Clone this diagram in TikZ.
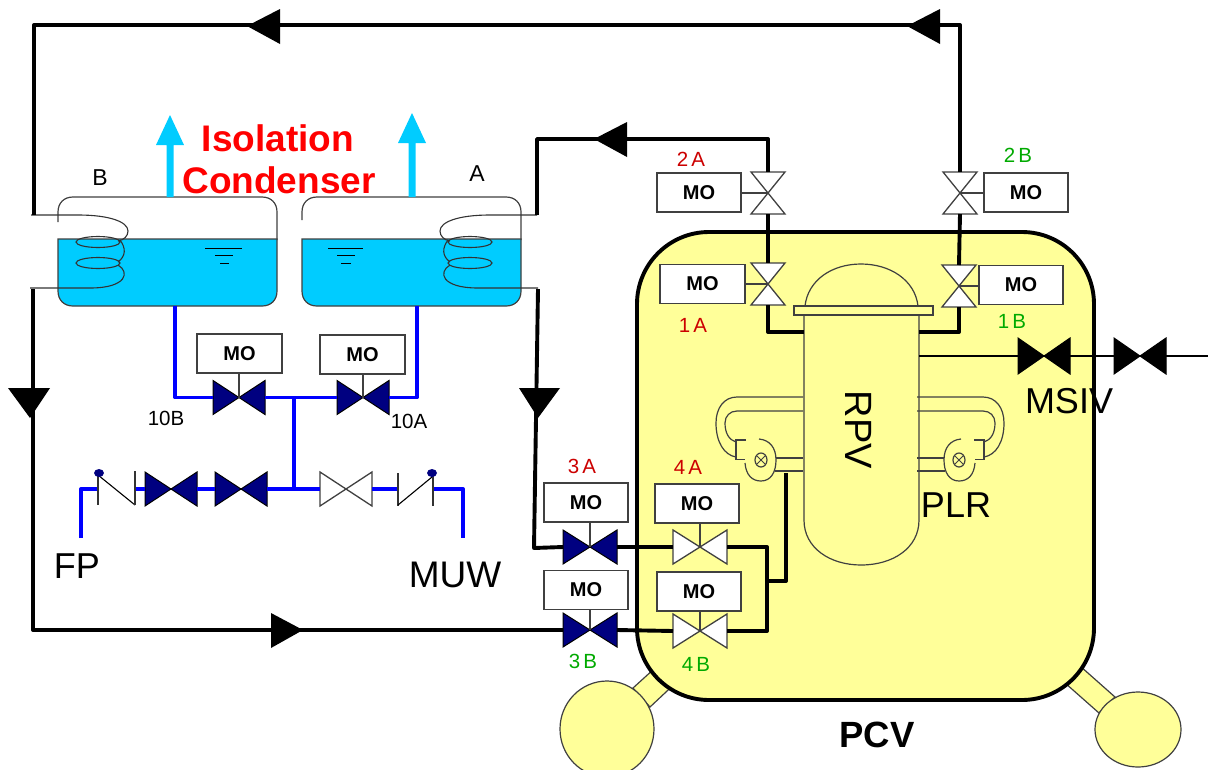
\documentclass[tikz,border=0pt]{standalone}
\usepackage{fontspec}
\usetikzlibrary{calc,shapes.geometric}
\setmainfont{Liberation Sans}
\newfontfamily\spaced[LetterSpace=16]{Liberation Sans}
\definecolor{pcvy}{HTML}{FFFF99}
\definecolor{water}{HTML}{00CCFF}
\definecolor{navyv}{HTML}{000080}
\definecolor{pipeblue}{HTML}{0000FF}
\definecolor{lab}{HTML}{CC0000}
\definecolor{labg}{HTML}{00AA00}
\definecolor{thin}{HTML}{404040}
\tikzset{
  x=1pt,y=-1pt,
  blackpipe/.style={draw=black,line width=3.9pt,line join=round},
  bluepipe/.style={draw=pipeblue,line width=3.9pt,line join=round},
  thinline/.style={draw=thin,line width=1.2pt},
  coilline/.style={draw=black!80,line width=1.1pt},
  navyvalve/.style={draw=black,fill=navyv,line width=1pt},
  whitevalve/.style={draw=thin,fill=white,line width=1.3pt},
  blackvalve/.style={draw=black,fill=black,line width=1pt},
  mobox/.style={draw=thin,fill=white,line width=1.2pt,minimum width=84pt,minimum height=39pt,inner sep=0pt,font=\fontsize{20}{22}\selectfont\bfseries},
  tag/.style={inner sep=0pt,font=\spaced\fontsize{20.5}{22}\selectfont},
  biglabel/.style={inner sep=0pt,font=\fontsize{36}{40}\selectfont},
  title/.style={inner sep=0pt,text=red,font=\fontsize{37}{40}\selectfont\bfseries},
  flowhead/.style={fill=black,draw=none},
}
% horizontal-flow valve: name, x, y, half width, half height, style
\newcommand{\hvalve}[6]{%
  \coordinate (#1) at (#2,#3);
  \coordinate (#1l) at ($(#1)+(-#4,0)$);
  \coordinate (#1r) at ($(#1)+(#4,0)$);
  \path[#6] ($(#1)+(-#4,-#5)$) -- ($(#1)+(#4,#5)$) -- ($(#1)+(#4,-#5)$) -- ($(#1)+(-#4,#5)$) -- cycle;}
% vertical-flow valve
\newcommand{\vvalve}[6]{%
  \coordinate (#1) at (#2,#3);
  \coordinate (#1t) at ($(#1)+(0,-#5)$);
  \coordinate (#1b) at ($(#1)+(0,#5)$);
  \path[#6] ($(#1)+(-#4,-#5)$) -- ($(#1)+(#4,-#5)$) -- ($(#1)+(-#4,#5)$) -- ($(#1)+(#4,#5)$) -- cycle;}
\newcommand{\coilB}{%
  \draw[coilline] (31,215) -- (78,215) .. controls (110,215) and (128,222) .. (128,231) .. controls (128,236) and (124,240) .. (118,241);
  \draw[coilline] (98,242) ellipse [x radius=22, y radius=5.5];
  \draw[coilline] (120,240) .. controls (126,248) and (126,256) .. (118,262);
  \draw[coilline] (98,263) ellipse [x radius=22, y radius=5.5];
  \draw[coilline] (118,265) .. controls (130,272) and (127,288) .. (90,288) -- (30,288);
}
\newcommand{\pumpL}{%
  \draw[thinline] (803,397) -- (737,397) .. controls (724,397) and (716,408) .. (716,423) .. controls (716,442) and (724,455) .. (736,457);
  \draw[thinline] (803,411) -- (737,411) .. controls (730,411) and (725,416) .. (725,423) .. controls (725,433) and (729,440) .. (736,442);
  \draw[thinline] (746,440) -- (736,440) -- (736,459.5) -- (745,459.5);
  \draw[thinline] (745,463) .. controls (746,475) and (752,481) .. (761,481) .. controls (771,481) and (776,472) .. (776,460) .. controls (776,448) and (770,440) .. (759,439);
  \draw[thinline] (761,460) ellipse [x radius=6, y radius=7];
  \draw[thinline,line width=.8pt] (757,456) -- (765,464) (765,456) -- (757,464);
  \draw[thinline] (776,458) -- (803,458) (775,471) -- (803,471);
}
\begin{document}
\begin{tikzpicture}
\clip (0,0) rectangle (1208,769);
\useasboundingbox (0,0) rectangle (1208,769);
\fill[white] (0,0) rectangle (1208,769);

% suppression chamber necks and tori
\filldraw[fill=pcvy,thinline] (666,658) -- (682,677) -- (650,707) -- (633,688) -- cycle;
\filldraw[fill=pcvy,thinline] (1071,658) -- (1056,675) -- (1099,713) -- (1115,697) -- cycle;
\node[draw=thin,fill=pcvy,line width=1.2pt,ellipse,minimum width=94pt,minimum height=96pt,inner sep=0pt] (torusL) at (607,729) {};
\node[draw=thin,fill=pcvy,line width=1.2pt,ellipse,minimum width=86pt,minimum height=75pt,inner sep=0pt] (torusR) at (1138,729.5) {};

% PCV
\filldraw[fill=pcvy,draw=black,line width=3.9pt,rounded corners=72pt] (637,232) rectangle (1094,700);

% RPV
\filldraw[fill=pcvy,thinline] (805,306) .. controls (808,280) and (832,264) .. (861,264) .. controls (890,264) and (915,280) .. (918,306) -- cycle;
\filldraw[fill=pcvy,thinline] (804,315) -- (804,520) .. controls (804,548) and (830,565) .. (861,565) .. controls (893,565) and (919,548) .. (919,520) -- (919,315) -- cycle;
\filldraw[fill=pcvy,thinline] (794,306) rectangle (933,315);
\node[inner sep=0pt,rotate=-90,font=\fontsize{38}{40}\selectfont] (rpv) at (859,430) {RPV};

% recirculation loops
\pumpL
\begin{scope}[xshift=1720pt,xscale=-1]\pumpL\end{scope}

% tanks
\draw[thinline] (58,222) -- (58,212) .. controls (58,203) and (64,197) .. (73,197) -- (262,197) .. controls (271,197) and (277,203) .. (277,212) -- (277,240);
\draw[thinline] (302,220) -- (302,212) .. controls (302,203) and (308,197) .. (317,197) -- (506,197) .. controls (515,197) and (521,203) .. (521,212) -- (521,240);
\filldraw[fill=water,thinline] (58,239) -- (277,239) -- (277,291) .. controls (277,300) and (271,306) .. (262,306) -- (73,306) .. controls (64,306) and (58,300) .. (58,291) -- cycle;
\filldraw[fill=water,thinline] (302,239) -- (521,239) -- (521,291) .. controls (521,300) and (515,306) .. (506,306) -- (317,306) .. controls (308,306) and (302,300) .. (302,291) -- cycle;
\draw[black,line width=1pt] (205,248) -- (242,248) (215,255) -- (233,255) (220,263) -- (229,263);
\draw[black,line width=1pt] (328,248) -- (363,248) (337,255) -- (355,255) (341,263) -- (351,263);
\coilB
\begin{scope}[xshift=568pt,xscale=-1]\coilB\end{scope}
\coordinate (coilBin) at (34,215);
\coordinate (coilBout) at (33,289);
\coordinate (coilAin) at (537,215);
\coordinate (coilAout) at (538,289);

% vent arrows
\fill[water] (166.5,197) -- (166.5,145) -- (156,145) -- (170,115) -- (184,145) -- (173.5,145) -- (173.5,197) -- cycle;
\fill[water] (408.5,197) -- (408.5,143) -- (398,143) -- (412,113) -- (426,143) -- (415.5,143) -- (415.5,197) -- cycle;

% black-side valves
\vvalve{vTwoA}{768}{193}{17}{21}{whitevalve}
\vvalve{vTwoB}{960}{193}{17}{21}{whitevalve}
\vvalve{vOneA}{768}{284}{17}{21}{whitevalve}
\vvalve{vOneB}{959}{286}{17}{21}{whitevalve}
\hvalve{vThreeA}{590}{547}{27}{17}{navyvalve}
\hvalve{vThreeB}{590}{630}{27}{17}{navyvalve}
\hvalve{vFourA}{700}{547}{27}{17}{whitevalve}
\hvalve{vFourB}{700}{631}{27}{17}{whitevalve}
\hvalve{vMsivA}{1044}{356}{26}{18}{blackvalve}
\hvalve{vMsivB}{1140}{356}{26}{18}{blackvalve}

% black pipes
\draw[blackpipe] (coilBin) -- (34,25) -- (960,25) -- (vTwoBt);
\draw[blackpipe] (coilAin) -- (537,139) -- (768,139) -- (vTwoAt);
\draw[blackpipe] (vTwoAb) -- (vOneAt);
\draw[blackpipe] (vTwoBb) -- (vOneBt);
\draw[blackpipe] (vOneAb) -- (768,332) -- (804,332);
\draw[blackpipe] (vOneBb) -- (959,332) -- (919,332);
\draw[blackpipe] (coilBout) -- (33,630) -- (vThreeBl);
\draw[blackpipe] (coilAout) -- (534,548) -- (vThreeAl);
\draw[blackpipe] (vThreeAr) -- (vFourAl);
\draw[blackpipe] (vThreeBr) -- (vFourBl);
\draw[blackpipe] (vFourAr) -- (767,547) -- (767,631) -- (vFourBr);
\draw[blackpipe] (767,581) -- (786,581) -- (786,473);
\draw[draw=black,line width=2.6pt] (919,356) -- (vMsivAl);
\draw[draw=black,line width=2.6pt] (vMsivAr) -- (vMsivBl);
\coordinate (steamend) at (1208,356);
\draw[draw=black,line width=2.6pt] (vMsivBr) -- (steamend);

% flow arrowheads
\fill[flowhead] (247,26) -- (280,9) -- (280,44) -- cycle;
\fill[flowhead] (907,26) -- (940,9) -- (940,44) -- cycle;
\fill[flowhead] (594,139) -- (627,122) -- (627,157) -- cycle;
\fill[flowhead] (8,388) -- (50,388) -- (30,418) -- cycle;
\fill[flowhead] (519,388) -- (560,388) -- (538,418) -- cycle;
\fill[flowhead] (303,630) -- (271,613) -- (271,648) -- cycle;

% blue pipes and valves
\hvalve{vTenB}{239}{397.5}{26}{17}{navyvalve}
\hvalve{vTenA}{363}{397.5}{26}{17}{navyvalve}
\hvalve{vFpA}{171}{489}{26}{17}{navyvalve}
\hvalve{vFpB}{241}{489}{26}{17}{navyvalve}
\hvalve{vMuw}{346}{489}{26}{17}{whitevalve}
\coordinate (chkFpL) at (98,489);
\coordinate (chkFpR) at (135,489);
\coordinate (chkMuL) at (398,489);
\coordinate (chkMuR) at (433,489);
\coordinate (fpEnd) at (81,538);
\coordinate (muwEnd) at (463,538);
\coordinate (teeTop) at (294,397.5);
\coordinate (teeBot) at (294,489);
\draw[bluepipe] (175,306) -- (175,397.5) -- (vTenBl);
\draw[bluepipe] (vTenBr) -- (vTenAl);
\draw[bluepipe] (vTenAr) -- (417,397.5) -- (417,306);
\draw[bluepipe] (teeTop) -- (teeBot);
\draw[bluepipe] (fpEnd) -- (81,489) -- (chkFpL);
\draw[bluepipe] (chkFpR) -- (vFpAl);
\draw[bluepipe] (vFpAr) -- (vFpBl);
\draw[bluepipe] (vFpBr) -- (vMuwl);
\draw[bluepipe] (vMuwr) -- (chkMuL);
\draw[bluepipe] (chkMuR) -- (463,489) -- (muwEnd);
% check valves
\draw[black!80,line width=1.1pt] (98,473) -- (98,505);
\draw[thin,line width=1.1pt] (98,475) -- (135,505);
\draw[black!80,line width=1.1pt] (135,471) -- (135,505);
\fill[navyv] (99,473) ellipse [x radius=5, y radius=4];
\draw[black!80,line width=1.1pt] (398,473) -- (398,506);
\draw[thin,line width=1.1pt] (398,505) -- (432,477);
\draw[black!80,line width=1.1pt] (433,475) -- (433,506);
\fill[navyv] (432,473) ellipse [x radius=5, y radius=4];

% motor operators
\node[mobox] (moTwoA) at (699,192.5) {MO};
\node[mobox] (moTwoB) at (1026,192.5) {MO};
\node[mobox,minimum width=85pt] (moOneA) at (702.5,284) {MO};
\node[mobox] (moOneB) at (1021,285) {MO};
\node[mobox] (moThreeA) at (586,502.5) {MO};
\node[mobox] (moThreeB) at (586,590) {MO};
\node[mobox] (moFourA) at (697,503.5) {MO};
\node[mobox] (moFourB) at (699,591.5) {MO};
\node[mobox,minimum width=85pt] (moTenB) at (239.5,353.5) {MO};
\node[mobox,minimum width=85pt] (moTenA) at (362.5,354.5) {MO};
\draw[thinline] (moTwoA.east |- vTwoA) -- (vTwoA);
\draw[thinline] (moTwoB.west |- vTwoB) -- (vTwoB);
\draw[thinline] (moOneA.east |- vOneA) -- (vOneA);
\draw[thinline] (moOneB.west |- vOneB) -- (vOneB);
\draw[thinline] (moThreeA.south -| vThreeA) -- (vThreeA);
\draw[thinline] (moThreeB.south -| vThreeB) -- (vThreeB);
\draw[thinline] (moFourA.south -| vFourA) -- (vFourA);
\draw[thinline] (moFourB.south -| vFourB) -- (vFourB);
\draw[thinline] (moTenB.south -| vTenB) -- (vTenB);
\draw[thinline] (moTenA.south -| vTenA) -- (vTenA);

% labels
\node[title] (t1) at (278,138) {Isolation};
\node[title] (t2) at (279,180) {Condenser};
\node[inner sep=0pt,font=\fontsize{23}{24}\selectfont] (lb) at (100,178) {B};
\node[inner sep=0pt,font=\fontsize{23}{24}\selectfont] (la) at (477,174) {A};
\node[tag,text=lab] (l2a) at (691,159) {2A};
\node[tag,text=labg] (l2b) at (1018,155) {2B};
\node[tag,text=lab] (l1a) at (693,325) {1A};
\node[tag,text=labg] (l1b) at (1012,321) {1B};
\node[tag,text=lab] (l3a) at (582,466) {3A};
\node[tag,text=lab] (l4a) at (688,467) {4A};
\node[tag,text=labg] (l3b) at (583,661) {3B};
\node[tag,text=labg] (l4b) at (696,664) {4B};
\node[tag,font=\fontsize{20.5}{22}\selectfont] (l10b) at (166,418) {10B};
\node[tag,font=\fontsize{20.5}{22}\selectfont] (l10a) at (409,421) {10A};
\node[biglabel] (fp) at (77,566) {FP};
\node[biglabel,font=\fontsize{37}{40}\selectfont] (muw) at (455,575) {MUW};
\node[biglabel] (plr) at (956,505) {PLR};
\node[biglabel] (msiv) at (1069,401) {MSIV};
\node[inner sep=0pt,font=\fontsize{36.5}{40}\selectfont\bfseries] (pcv) at (877,735) {PCV};
\end{tikzpicture}
\end{document}
